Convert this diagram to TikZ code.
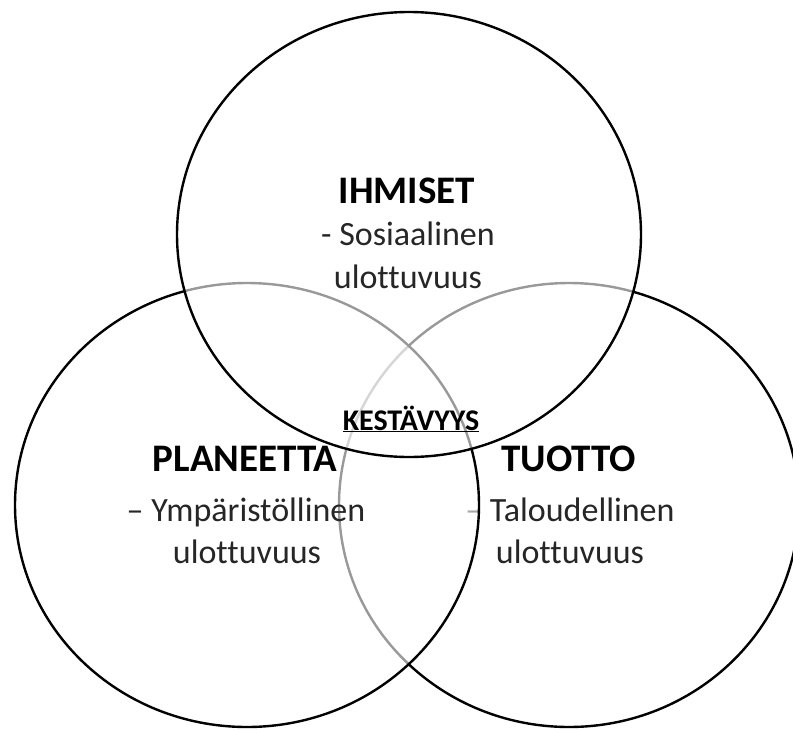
\documentclass[tikz,border=0pt]{standalone}
\usepackage{fontspec}
\setmainfont{Carlito}[Ligatures={NoCommon}]
\begin{document}
\begin{tikzpicture}[x=1pt,y=-1pt,
  ring/.style={draw=black,line width=2.4pt,fill=white,fill opacity=0.6},
  head/.style={anchor=base,inner sep=0pt,font=\fontsize{39}{44}\selectfont\bfseries},
  sub/.style={anchor=base,inner sep=0pt,font=\fontsize{34}{40}\selectfont,text=black!85},
  core/.style={anchor=base,inner sep=0pt,font=\fontsize{30}{36}\selectfont\bfseries}]
\useasboundingbox (0,0) rectangle (793,729);
\clip (0,0) rectangle (793,729);

% economic dimension (drawn first, lies underneath)
\path[ring] (569,505) ellipse [x radius=230, y radius=222];
\node[head] (tuotto) at (569,471) {TUOTTO};
\node[sub]  (talous) at (570,521) {– Taloudellinen};
\node[sub]  (talousu) at (570,563) {ulottuvuus};

% environmental dimension
\path[ring] (247,505) ellipse [x radius=232, y radius=222];
\node[head] (planeetta) at (245,471) {PLANEETTA};
\node[sub]  (ymparisto) at (246,521) {– Ympäristöllinen};
\node[sub]  (ymparistou) at (247,563) {ulottuvuus};

% social dimension (on top)
\path[ring] (409,234.5) ellipse [x radius=232, y radius=222.5];
\node[head] (ihmiset) at (407,203) {IHMISET};
\node[sub]  (sosiaali) at (408,245) {- Sosiaalinen};
\node[sub]  (sosiaaliu) at (408,288) {ulottuvuus};

% common core
\node[core] (kestavyys) at (411,430) {\underline{KESTÄVYYS}};
\end{tikzpicture}
\end{document}
